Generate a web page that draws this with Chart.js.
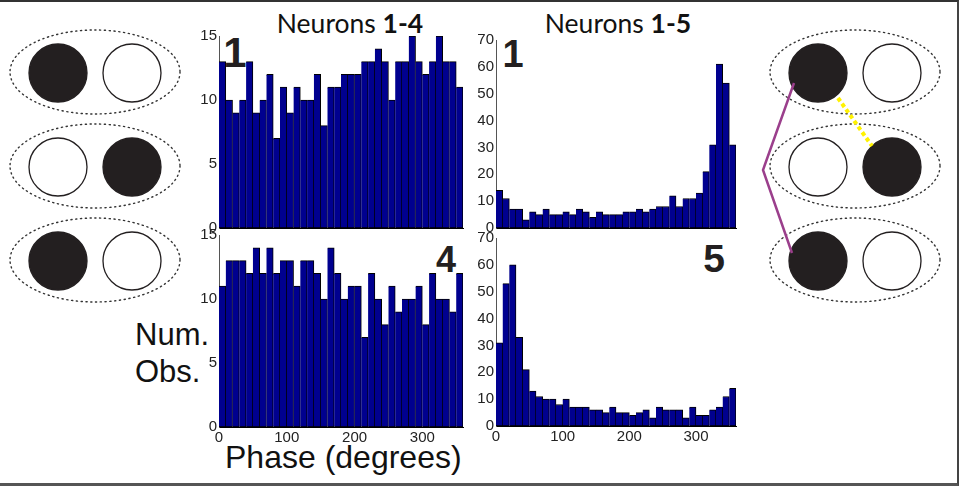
<!DOCTYPE html>
<html>
<head>
<meta charset="utf-8">
<script src="https://cdn.jsdelivr.net/npm/chart.js@4.4.1/dist/chart.umd.min.js"></script>
<style>
  html, body { margin: 0; padding: 0; background: #fff; }
  #fig { position: relative; width: 961px; height: 487px; overflow: hidden; }
  #frame { position: absolute; left: 0; top: 0; width: 957px; height: 481px;
           border-top: 2px solid #333; border-right: 2px solid #444; border-bottom: 3px solid #555; }
  #art { position: absolute; left: 0; top: 0; }
  canvas { position: absolute; }
</style>
</head>
<body>
<div id="fig">
  <div id="frame"></div>
  <svg id="art" width="961" height="487" xmlns="http://www.w3.org/2000/svg">
    <g id="pairsL"></g>
    <g id="pairsR"></g>
    <polyline points="794,83 763,170 792,253" fill="none" stroke="#9b3f8c" stroke-width="2.5"/>
    <line x1="838" y1="98" x2="872" y2="146" stroke="#fff200" stroke-width="4" stroke-dasharray="4 3"/>
    <g font-family="Lato, 'Open Sans', sans-serif" font-size="26.5" fill="#111" text-anchor="middle">
      <text x="350" y="33">Neurons <tspan font-weight="bold">1-4</tspan></text>
      <text x="618" y="33">Neurons <tspan font-weight="bold">1-5</tspan></text>
    </g>
    <g font-family="'Liberation Sans', Arial, sans-serif" font-weight="bold" fill="#231f20" text-anchor="middle">
      <text x="235" y="67" font-size="42">1</text>
      <text x="446" y="272" font-size="36">4</text>
      <text x="513" y="67" font-size="38">1</text>
      <text x="714" y="272" font-size="39">5</text>
    </g>
    <g font-family="'Liberation Sans', Arial, sans-serif" fill="#111">
      <text x="135" y="345" font-size="31">Num.</text>
      <text x="135" y="382" font-size="31">Obs.</text>
      <text x="225" y="468" font-size="32">Phase (degrees)</text>
    </g>
  </svg>
  <canvas id="c14a" width="299" height="222" style="left:174px; top:22px"></canvas>
  <canvas id="c14b" width="299" height="230" style="left:174px; top:221px"></canvas>
  <canvas id="c15a" width="295" height="218" style="left:451px; top:26px"></canvas>
  <canvas id="c15b" width="295" height="226" style="left:451px; top:224px"></canvas>
</div>
<script>
// bin centres (degrees), 10-degree bins
var phaseBins = [5, 15, 25, 35, 45, 55, 65, 75, 85, 95, 105, 115, 125, 135, 145, 155, 165, 175,
                 185, 195, 205, 215, 225, 235, 245, 255, 265, 275, 285, 295, 305, 315, 325, 335, 345, 355];

// neurons 1-4, reference neuron 1 and 4
var n14_ref1 = [13, 10, 9, 10, 13, 9, 10, 12, 7, 11, 9, 11, 10, 10, 12, 8, 11, 11,
                12, 12, 12, 13, 13, 14, 13, 10, 13, 13, 15, 13, 12, 13, 15, 13, 13, 11];
var n14_ref4 = [11, 13, 13, 13, 12, 14, 12, 14, 12, 13, 13, 11, 13, 13, 12, 10, 14, 12,
                10, 11, 11, 7, 12, 10, 8, 11, 9, 10, 10, 11, 8, 12, 10, 10, 9, 12];

// neurons 1-5, reference neuron 1 and 5
var n15_ref1 = [14, 11, 7, 7, 3, 6, 5, 7, 5, 5, 6, 5, 7, 6, 4, 6, 5, 5,
                5, 6, 6, 7, 6, 7, 8, 8, 12, 8, 11, 11, 13, 21, 31, 61, 54, 31];
var n15_ref5 = [31, 53, 60, 33, 21, 13, 11, 10, 10, 8, 10, 7, 7, 7, 6, 6, 5, 7,
                5, 5, 4, 5, 6, 3, 7, 6, 6, 6, 3, 7, 4, 4, 6, 7, 11, 14];

var tickFont = { family: "'Liberation Sans', Arial, sans-serif", size: 15 };

function histPanel(id, counts, yMax, yStep, showX) {
  new Chart(id, {
    type: 'bar',
    data: {
      datasets: [{
        data: counts.map(function (c, i) { return { x: phaseBins[i], y: c }; }),
        backgroundColor: '#00008f',
        borderColor: '#000',
        borderWidth: 1,
        borderSkipped: 'left',
        barPercentage: 1,
        categoryPercentage: 1
      }]
    },
    options: {
      responsive: false,
      animation: false,
      layout: { padding: { top: 14, right: 10, left: 0, bottom: 0 } },
      plugins: { legend: { display: false }, tooltip: { enabled: false } },
      scales: {
        x: {
          type: 'linear', min: 0, max: 360, offset: false,
          grid: { display: false, drawTicks: false },
          border: { color: '#000' },
          ticks: { display: showX, stepSize: 100, includeBounds: false, padding: 2,
                   maxRotation: 0, font: tickFont, color: '#222' },
          afterFit: function (s) { s.height = showX ? 24 : 16; }
        },
        y: {
          min: 0, max: yMax,
          grid: { display: false, drawTicks: false },
          border: { color: '#555' },
          ticks: { stepSize: yStep, padding: 2, font: tickFont, color: '#222' },
          afterFit: function (s) { s.width = 45; }
        }
      }
    }
  });
}

histPanel('c14a', n14_ref1, 15, 5, false);
histPanel('c14b', n14_ref4, 15, 5, true);
histPanel('c15a', n15_ref1, 70, 10, false);
histPanel('c15b', n15_ref5, 70, 10, true);

// two-neuron state diagrams
var ns = 'http://www.w3.org/2000/svg';
function el(parent, tag, attrs) {
  var e = document.createElementNS(ns, tag);
  for (var k in attrs) e.setAttribute(k, attrs[k]);
  parent.appendChild(e);
  return e;
}
function pair(parent, cx, cy, leftOn) {
  el(parent, 'ellipse', { cx: cx, cy: cy, rx: 85, ry: 42, fill: 'none', stroke: '#333',
     'stroke-width': 1.4, 'stroke-dasharray': '1.2 3.6', 'stroke-linecap': 'round' });
  var dark = '#231f20';
  el(parent, 'circle', { cx: cx - 37, cy: cy + 1, r: 29, fill: leftOn ? dark : '#fff', stroke: dark, 'stroke-width': 1.3 });
  el(parent, 'circle', { cx: cx + 37, cy: cy + 1, r: 29, fill: leftOn ? '#fff' : dark, stroke: dark, 'stroke-width': 1.3 });
}
var gl = document.getElementById('pairsL');
var gr = document.getElementById('pairsR');
pair(gl, 95, 72, true);  pair(gl, 95, 166, false);  pair(gl, 95, 260, true);
pair(gr, 855, 72, true); pair(gr, 855, 166, false); pair(gr, 855, 260, true);
</script>
</body>
</html>
